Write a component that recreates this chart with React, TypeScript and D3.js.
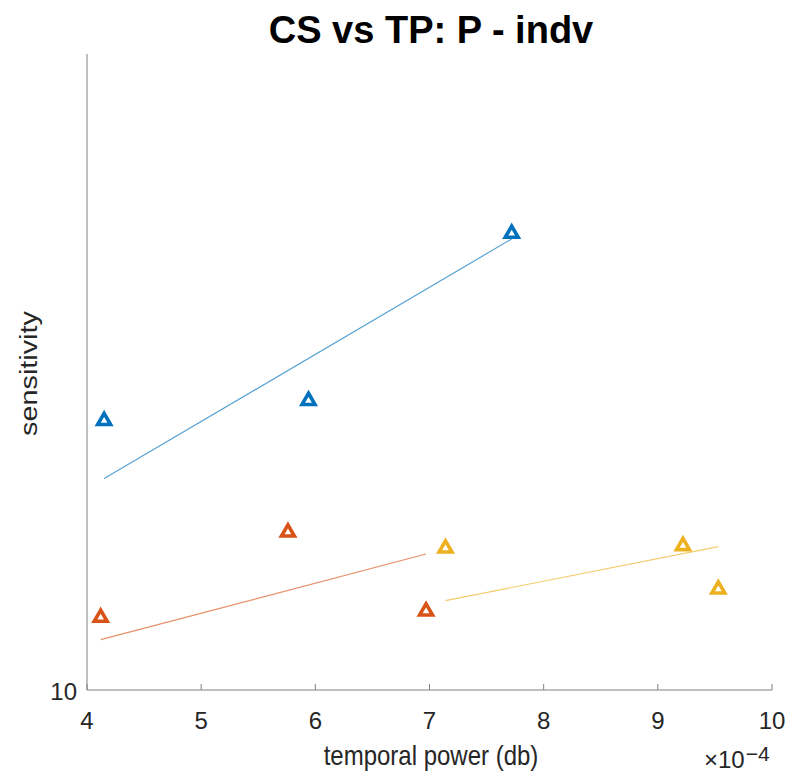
import React from "react";
import * as d3 from "d3";

// temporal power (×10^-4) and sensitivity per group
const groupNames = ["G1", "G2", "G3"];
const groupColors = ["#0072BD", "#D95319", "#EDB120"];
const xBlue = [4.15, 5.94, 7.72];
const yBlue = [26.5, 28.5, 52.2];
const xOrange = [4.12, 5.76, 6.97];
const yOrange = [13.0, 17.7, 13.3];
const xYellow = [7.14, 9.22, 9.53];
const yYellow = [16.7, 16.85, 14.4];
// fitted line endpoints
const fitBlue = [[4.15, 21.5], [7.72, 51.2]];
const fitOrange = [[4.12, 12.0], [6.97, 16.36]];
const fitYellow = [[7.14, 13.82], [9.53, 16.81]];
const xTicks = [4, 5, 6, 7, 8, 9, 10];
const yTicks = [10];

const W = 792, H = 777;
const M = { left: 87, right: 772, top: 54, bottom: 690 };

export default function App() {
  const x = d3.scaleLinear().domain([4, 10]).range([M.left, M.right]);
  const y = d3.scaleLog().domain([10, 100]).range([M.bottom, M.top]);
  const groups = [
    { xs: xBlue, ys: yBlue, fit: fitBlue },
    { xs: xOrange, ys: yOrange, fit: fitOrange },
    { xs: xYellow, ys: yYellow, fit: fitYellow },
  ];
  const tri = d3.symbol().type(d3.symbolTriangle).size(72)()!;
  const line = d3.line<number[]>().x((d) => x(d[0])).y((d) => y(d[1]));
  const font = "'Liberation Sans', Arial, Helvetica, sans-serif";
  return (
    <svg width={W} height={H} style={{ position: "absolute", left: 0, top: 0, background: "#fff" }}
      fontFamily={font}>
      <rect width={W} height={H} fill="#fff" />
      <text x={431} y={43} textAnchor="middle" fontSize={38} fontWeight="bold" fill="#000">
        CS vs TP: P - indv
      </text>
      {/* axes */}
      <line x1={M.left} x2={M.left} y1={M.top} y2={M.bottom} stroke="#808080" strokeWidth={1} />
      <line x1={M.left} x2={M.right} y1={M.bottom} y2={M.bottom} stroke="#808080" strokeWidth={1} />
      {xTicks.map((t) => (
        <g key={t}>
          <line x1={x(t)} x2={x(t)} y1={M.bottom} y2={M.bottom - 6} stroke="#808080" />
          <text x={x(t)} y={729} textAnchor="middle" fontSize={24} fill="#262626">{t}</text>
        </g>
      ))}
      {yTicks.map((t) => (
        <text key={t} x={77} y={y(t) + 10} textAnchor="end" fontSize={24} fill="#262626">{t}</text>
      ))}
      <text transform="translate(431,765) scale(1,1.15)" textAnchor="middle" fontSize={24} fill="#262626">
        temporal power (db)
      </text>
      <text transform="translate(37,373.5) rotate(-90) scale(1.2,1)" textAnchor="middle" fontSize={24} fill="#262626">
        sensitivity
      </text>
      <text x={704} y={768} fontSize={24} fill="#262626">
        ×10<tspan dx={1} dy={-7} fontSize={21}>−4</tspan>
      </text>
      {/* fits */}
      {groups.map((g, i) => (
        <path key={"f" + i} d={line(g.fit)!} fill="none" stroke={groupColors[i]} strokeOpacity={0.65} strokeWidth={1.2} />
      ))}
      {/* markers */}
      {groups.map((g, i) =>
        g.xs.map((xv, j) => (
          <path key={groupNames[i] + j} d={tri} transform={`translate(${x(xv)},${y(g.ys[j])})`}
            fill="#fff" stroke={groupColors[i]} strokeWidth={3.6} strokeLinejoin="miter" />
        ))
      )}
    </svg>
  );
}
